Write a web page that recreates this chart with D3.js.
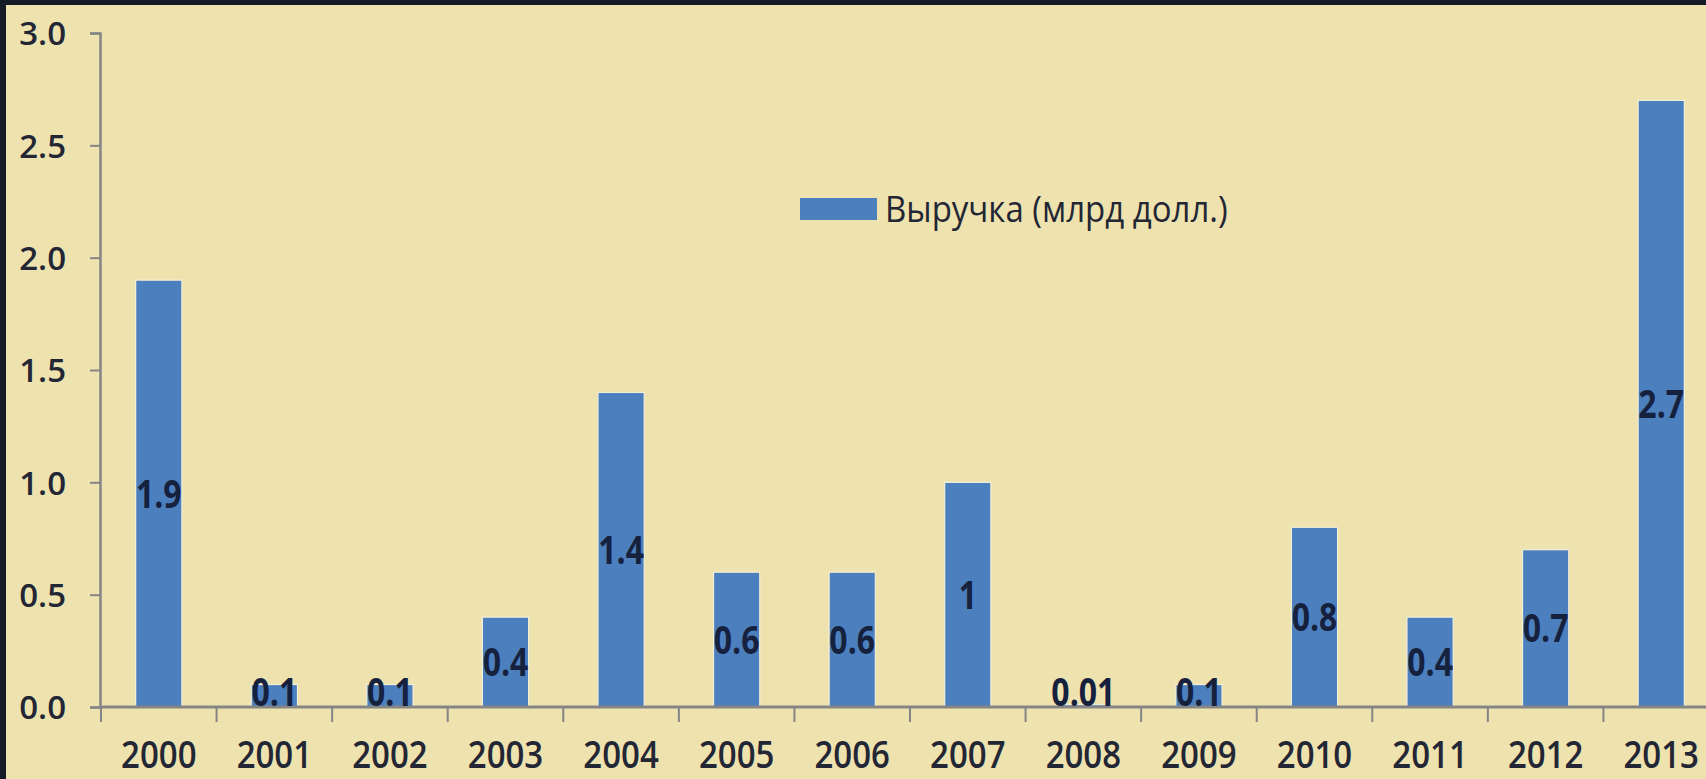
<!DOCTYPE html>
<html>
<head>
<meta charset="utf-8">
<script src="https://cdn.jsdelivr.net/npm/d3@7"></script>
<style>
  html, body { margin: 0; padding: 0; background: #000; }
  svg { display: block; }
  text { font-family: "Open Sans", "Noto Sans", sans-serif; }
</style>
</head>
<body>
<svg id="chart" width="1706" height="779"></svg>
<script>
// Revenue by year, billion USD
const years = ["2000","2001","2002","2003","2004","2005","2006","2007","2008","2009","2010","2011","2012","2013"];
const revenue = [1.9, 0.1, 0.1, 0.4, 1.4, 0.6, 0.6, 1, 0.01, 0.1, 0.8, 0.4, 0.7, 2.7];
const valueLabels = ["1.9","0.1","0.1","0.4","1.4","0.6","0.6","1","0.01","0.1","0.8","0.4","0.7","2.7"];
const yTicks = [0, 0.5, 1.0, 1.5, 2.0, 2.5, 3.0];
const seriesName = "Выручка (млрд долл.)";

const W = 1706, H = 779;
const svg = d3.select("#chart");

// page background with dark frame on top and left
svg.append("rect").attr("x", 0).attr("y", 0).attr("width", W).attr("height", H).attr("fill", "#141a26");
svg.append("rect").attr("x", 6).attr("y", 5).attr("width", W - 6).attr("height", H - 5).attr("fill", "#EEE2AF");

const x = d3.scaleBand().domain(years).range([101, 1719]).paddingInner(0.6).paddingOuter(0.3);
const y = d3.scaleLinear().domain([0, 3]).range([707, 33]);

const axisColor = "#858585";
const textColor = "#232634";

// bars
svg.append("g").selectAll("rect").data(years).join("rect")
  .attr("x", d => x(d))
  .attr("width", x.bandwidth())
  .attr("y", (d, i) => y(revenue[i]))
  .attr("height", (d, i) => y(0) - y(revenue[i]))
  .attr("fill", "#4C7FBD")
  .attr("stroke", "#f4efd8")
  .attr("stroke-width", 1.2);

// y axis
const yAxis = svg.append("g").attr("transform", "translate(100,0)")
  .call(d3.axisLeft(y).tickValues(yTicks).tickFormat(d3.format(".1f")).tickSize(10).tickPadding(24));
yAxis.select(".domain").attr("stroke", axisColor).attr("stroke-width", 2.5);
yAxis.selectAll(".tick line").attr("stroke", axisColor).attr("stroke-width", 2);
yAxis.selectAll(".tick text")
  .attr("fill", textColor)
  .attr("font-size", 33)
  .attr("font-weight", 600)
  .attr("dy", "0.36em")
  .style("font-family", "'Open Sans', sans-serif");

// x axis: ticks sit between categories
const xAxisG = svg.append("g").attr("transform", `translate(0,${y(0)})`);
xAxisG.append("line")
  .attr("x1", 100).attr("x2", W).attr("y1", 0).attr("y2", 0)
  .attr("stroke", axisColor).attr("stroke-width", 3);
const boundaries = years.map(d => x(d) - x.step() * x.paddingInner() / 2);
xAxisG.selectAll("line.tick").data(boundaries).join("line")
  .attr("class", "tick")
  .attr("x1", d => d).attr("x2", d => d)
  .attr("y1", 0).attr("y2", 15)
  .attr("stroke", axisColor).attr("stroke-width", 2);
xAxisG.selectAll("text").data(years).join("text")
  .attr("transform", d => `translate(${x(d) + x.bandwidth() / 2},61) scale(1,1.15)`)
  .attr("text-anchor", "middle")
  .attr("font-size", 33)
  .attr("font-weight", 600)
  .attr("fill", textColor)
  .text(d => d);

// value labels centred in each bar
svg.append("g").selectAll("text").data(years).join("text")
  .attr("transform", (d, i) => {
    const cy = Math.min((y(revenue[i]) + y(0)) / 2, y(0) - 15);
    return `translate(${x(d) + x.bandwidth() / 2},${cy}) scale(1,1.22)`;
  })
  .attr("text-anchor", "middle")
  .attr("dy", "0.36em")
  .attr("font-size", 32)
  .attr("font-weight", 700)
  .attr("fill", "#15213d")
  .text((d, i) => valueLabels[i]);

// legend
const legend = svg.append("g").attr("transform", "translate(800,198)");
legend.append("rect").attr("x", 0).attr("y", 0).attr("width", 77).attr("height", 22).attr("fill", "#4C7FBD");
legend.append("text")
  .attr("transform", "translate(85,11) scale(1,1.1)")
  .attr("dy", "0.36em")
  .attr("font-size", 33)
  .attr("font-weight", 500)
  .attr("fill", textColor)
  .text(seriesName);
</script>
</body>
</html>
